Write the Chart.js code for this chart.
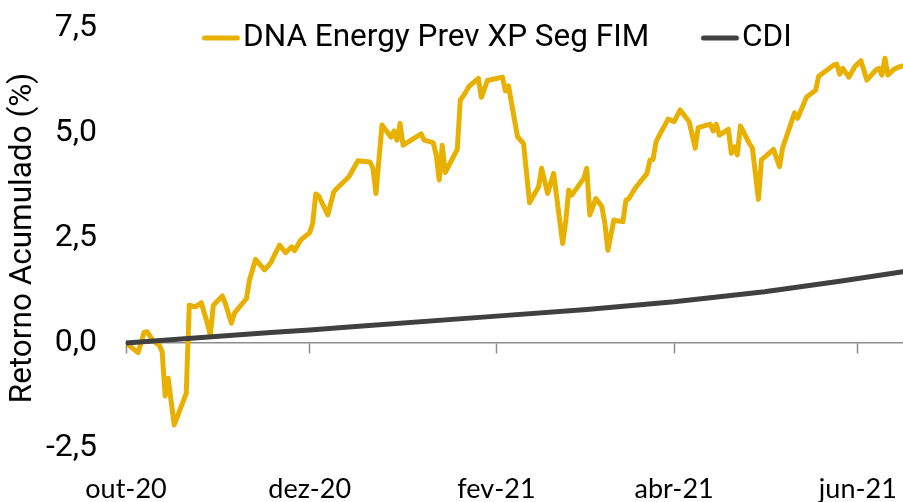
<!DOCTYPE html>
<html>
<head>
<meta charset="utf-8">
<script src="https://cdn.jsdelivr.net/npm/chart.js@4.4.1/dist/chart.umd.min.js"></script>
<style>
  html, body { margin: 0; padding: 0; background: #ffffff; }
  #wrap { width: 903px; height: 502px; }
</style>
</head>
<body>
<div id="wrap"><canvas id="chart" width="903" height="502"></canvas></div>
<script>
// ---- data (x = calendar days since 2020-10-01) ----
const X_TICK_DAYS = [0, 61, 123, 182, 243];
const X_TICK_LABELS = ['out-20', 'dez-20', 'fev-21', 'abr-21', 'jun-21'];
const X_MAX_DAY = 258;
const Y_TICKS = [-2.5, 0, 2.5, 5, 7.5];

const FUND_NAME = 'DNA Energy Prev XP Seg FIM';
const FUND_DAYS = [0, 4, 6, 7, 9, 11, 12, 13, 14, 16, 20, 21, 23, 25, 27, 28, 29, 32, 33, 35, 36, 40, 41, 43, 46, 48,
  49, 51, 53, 55, 56, 58, 61, 62, 63, 64, 67, 69, 70, 74, 77, 81, 82, 83, 85, 88, 89, 90, 91, 92,
  98, 99, 102, 103, 104, 105, 106, 110, 111, 112, 114, 117, 118, 120, 125, 126, 127, 130, 132, 134, 137, 138, 140,
  142, 145, 146, 147, 148, 152, 153, 154, 156, 158, 159, 160, 162, 163, 165, 166, 167, 169, 173, 174, 175, 176, 177, 180, 182, 184,
  187, 189, 190, 194, 195, 196, 197, 200, 201, 202, 203, 204, 207, 208, 210, 211, 215, 217, 218, 219, 222, 223, 226, 229, 230,
  235, 236, 237, 238, 240, 242, 244, 245, 246, 249, 250, 251, 252, 253, 255, 257, 258];
const FUND_VALUES = [0.00, -0.23, 0.25, 0.27, 0.05, -0.05, -0.20, -1.26, -0.84, -1.95, -1.20, 0.90, 0.86, 0.96, 0.47, 0.19, 0.90, 1.12, 0.94, 0.47, 0.71, 1.06, 1.50, 1.99, 1.74, 1.90,
  2.05, 2.33, 2.15, 2.29, 2.20, 2.45, 2.63, 2.85, 3.55, 3.50, 3.05, 3.60, 3.68, 3.96, 4.34, 4.31, 4.16, 3.56, 5.19, 4.90, 5.05, 4.83, 5.23, 4.71,
  4.98, 4.83, 4.77, 4.48, 3.88, 4.71, 4.06, 4.61, 5.79, 5.88, 6.12, 6.30, 5.85, 6.25, 6.33, 6.00, 6.12, 4.91, 4.75, 3.34, 3.72, 4.16, 3.56,
  4.04, 2.37, 2.89, 3.64, 3.52, 3.92, 4.16, 3.05, 3.44, 3.25, 2.85, 2.21, 2.93, 2.91, 2.89, 3.40, 3.44, 3.68, 4.04, 4.36, 4.37, 4.79, 4.93, 5.33, 5.27, 5.55,
  5.27, 4.64, 5.13, 5.21, 5.05, 5.21, 4.95, 5.09, 4.52, 4.67, 4.48, 5.17, 4.75, 4.64, 3.42, 4.36, 4.61, 4.20, 4.64, 4.85, 5.48, 5.35, 5.86, 6.02, 6.35,
  6.62, 6.64, 6.40, 6.54, 6.33, 6.58, 6.72, 6.50, 6.26, 6.50, 6.54, 6.38, 6.78, 6.38, 6.52, 6.58, 6.60];

const CDI_NAME = 'CDI';
const CDI_DAYS = [0, 48, 61, 74, 123, 153, 182, 212, 237, 258];
const CDI_VALUES = [0.00, 0.25, 0.31, 0.38, 0.64, 0.80, 0.98, 1.22, 1.47, 1.70];

// ---- style ----
const FUND_COLOR = '#E8B000';
const CDI_COLOR = '#404040';
const AXIS_GRAY = '#8c8c8c';
const LEGEND_FONT = 31.5;
const LEGEND_SYMBOL_W = 24;
const LEGEND_PAD = 53;

function legendMarker(color) {
  const c = document.createElement('canvas');
  c.width = 52; c.height = 8;
  const g = c.getContext('2d');
  g.strokeStyle = color; g.lineWidth = 5; g.lineCap = 'round';
  g.beginPath(); g.moveTo(15.25, 4); g.lineTo(48.25, 4); g.stroke();
  return c;
}

const toXY = (days, vals) => days.map((d, i) => ({ x: d, y: vals[i] }));
const setXTicks = s => { s.ticks = X_TICK_DAYS.map(v => ({ value: v })); };

const legendPlace = {
  id: 'legendPlace',
  afterLayout(chart) {
    const lg = chart.legend;
    const textStart = 243, textMid = 38;
    lg.left = textStart - LEGEND_FONT / 2 - LEGEND_SYMBOL_W - LEGEND_PAD;
    lg.right = chart.width;
    lg.top = textMid - LEGEND_FONT / 2 - LEGEND_PAD;
    lg.bottom = lg.top + 140;
    lg.width = lg.right - lg.left;
    lg.height = lg.bottom - lg.top;
  }
};

Chart.defaults.font.family = 'Roboto';
Chart.defaults.color = '#000';

new Chart(document.getElementById('chart'), {
  type: 'line',
  data: {
    datasets: [
      {
        label: FUND_NAME, data: toXY(FUND_DAYS, FUND_VALUES), xAxisID: 'x', yAxisID: 'y',
        borderColor: FUND_COLOR, backgroundColor: FUND_COLOR, borderWidth: 5,
        pointRadius: 0, pointHoverRadius: 0, tension: 0, order: 1,
        borderJoinStyle: 'round', borderCapStyle: 'round', pointStyle: legendMarker(FUND_COLOR)
      },
      {
        label: CDI_NAME, data: toXY(CDI_DAYS, CDI_VALUES), xAxisID: 'x', yAxisID: 'y',
        borderColor: CDI_COLOR, backgroundColor: CDI_COLOR, borderWidth: 5,
        pointRadius: 0, pointHoverRadius: 0, tension: 0, order: 0,
        borderJoinStyle: 'round', borderCapStyle: 'round', pointStyle: legendMarker(CDI_COLOR)
      }
    ]
  },
  options: {
    responsive: false,
    animation: false,
    devicePixelRatio: 1,
    layout: { padding: { top: 28, left: 0, right: 0, bottom: 0 } },
    plugins: {
      tooltip: { enabled: false },
      legend: {
        display: true, position: 'top', align: 'start', maxHeight: 0.01,
        labels: {
          font: { family: 'Roboto', size: LEGEND_FONT }, color: '#000',
          usePointStyle: true, pointStyleWidth: LEGEND_SYMBOL_W, padding: LEGEND_PAD,
          sort: (a, b) => a.datasetIndex - b.datasetIndex
        }
      }
    },
    scales: {
      x: {
        type: 'linear', position: 'bottom', min: 0, max: X_MAX_DAY,
        afterBuildTicks: setXTicks,
        ticks: {
          autoSkip: false, maxRotation: 0, padding: 0,
          font: { family: 'Lato', size: 27 }, color: '#000',
          callback: (v, i) => X_TICK_LABELS[i]
        },
        grid: { display: false, drawTicks: true, tickLength: 25 },
        border: { display: false },
        afterFit: s => { s.height = 54; }
      },
      x0: {
        axis: 'x', type: 'linear', position: { y: 0 }, min: 0, max: X_MAX_DAY,
        afterBuildTicks: setXTicks,
        ticks: { display: false },
        grid: { display: true, drawOnChartArea: false, drawTicks: true, tickLength: 10, tickColor: AXIS_GRAY, tickWidth: 1.5 },
        border: { display: true, color: AXIS_GRAY, width: 1.5 }
      },
      y: {
        type: 'linear', position: 'left', min: -2.5, max: 7.5,
        afterBuildTicks: s => { s.ticks = Y_TICKS.map(v => ({ value: v })); },
        ticks: {
          padding: 0, font: { family: 'Roboto', size: 32 }, color: '#000',
          callback: v => v.toFixed(1).replace('.', ',')
        },
        grid: { display: false, drawTicks: true, tickLength: 29 },
        border: { display: false },
        title: {
          display: true, text: 'Retorno Acumulado (%)', color: '#000',
          font: { family: 'Roboto', size: 31.5 }, padding: { top: 4, bottom: 0 }
        },
        afterFit: s => { s.width = 126; }
      }
    }
  },
  plugins: [legendPlace]
});
</script>
</body>
</html>
